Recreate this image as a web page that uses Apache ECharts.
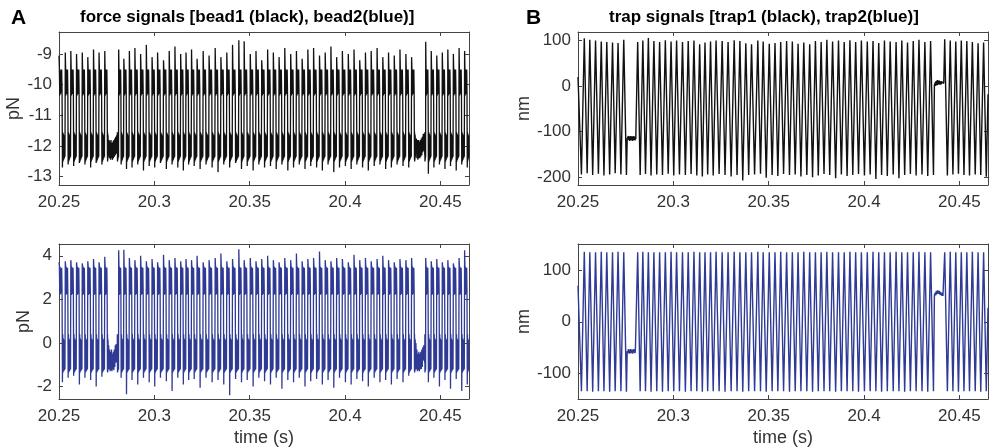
<!DOCTYPE html>
<html><head><meta charset="utf-8">
<script src="https://cdn.jsdelivr.net/npm/echarts@6/dist/echarts.min.js"></script>
<style>html,body{margin:0;padding:0;background:#fff}#c{width:990px;height:448px}</style>
</head><body><div id="c"></div>
<script>
// ---------------- data ----------------
const xTicks = [20.25, 20.3, 20.35, 20.4, 20.45];
const yTicksF1 = [-13, -12, -11, -10, -9];
const yTicksF2 = [-2, 0, 2, 4];
const yTicksT1 = [-200, -100, 0, 100];
const yTicksT2 = [-100, 0, 100];

// trap turning points (s)
const vertT = [
 20.2500,20.2518,20.2533,20.2548,20.2562,20.2577,20.2592,20.2607,20.2622,20.2636,
 20.2651,20.2666,20.2681,20.2695,20.2710,20.2725,20.2740,20.2754,20.2758,20.2805,
 20.2813,20.2826,20.2840,20.2854,20.2869,20.2883,20.2898,20.2913,20.2928,20.2943,
 20.2958,20.2973,20.2988,20.3002,20.3017,20.3032,20.3048,20.3063,20.3078,20.3093,
 20.3108,20.3123,20.3138,20.3152,20.3166,20.3180,20.3195,20.3209,20.3224,20.3240,
 20.3256,20.3271,20.3287,20.3303,20.3319,20.3334,20.3349,20.3364,20.3380,20.3395,
 20.3410,20.3426,20.3443,20.3457,20.3471,20.3487,20.3503,20.3518,20.3533,20.3548,
 20.3563,20.3578,20.3594,20.3609,20.3624,20.3639,20.3654,20.3669,20.3684,20.3700,
 20.3715,20.3730,20.3745,20.3760,20.3775,20.3790,20.3805,20.3820,20.3835,20.3851,
 20.3866,20.3881,20.3896,20.3911,20.3926,20.3941,20.3956,20.3971,20.3986,20.4002,
 20.4017,20.4032,20.4047,20.4062,20.4077,20.4092,20.4107,20.4122,20.4137,20.4153,
 20.4168,20.4183,20.4198,20.4213,20.4228,20.4243,20.4258,20.4273,20.4288,20.4304,
 20.4319,20.4334,20.4349,20.4364,20.4369,20.4418,20.4423,20.4437,20.4452,20.4466,
 20.4481,20.4495,20.4510,20.4524,20.4539,20.4553,20.4568,20.4583,20.4598,20.4612,
 20.4627,20.4641,20.4650
];
// trap1 (nm) at those points
const trap1V = [
 20,-195,105,-192,102,-196,100,-193,98,-197,
 97,-195,96,-192,95,-195,102,-196,-116,-114,
 97,-196,100,-194,106,-197,99,-195,97,-196,
 101,-193,98,-197,100,-195,97,-196,99,-194,
 100,-197,92,-199,96,-195,98,-197,100,-194,
 99,-196,97,-199,101,-196,99,-208,94,-196,
 92,-195,100,-193,98,-202,93,-196,95,-198,
 97,-194,99,-196,98,-195,93,-199,96,-196,
 92,-201,99,-197,97,-194,102,-196,98,-203,
 100,-195,97,-198,101,-196,97,-194,100,-197,
 98,-195,99,-205,95,-196,100,-198,98,-195,
 97,-203,100,-196,96,-194,99,-197,102,-195,
 97,-198,99,-196,2,6,103,-197,100,-195,
 98,-193,100,-196,99,-197,97,-195,94,-196,
 96,-200,-18
];
// trap2 (nm) at those points
const trap2V = [
 70,-135,136,-135,135,-136,135,-135,136,-135,
 135,-136,135,-135,136,-135,135,-136,-57,-58,
 135,-135,136,-135,135,-136,135,-135,135,-136,
 135,-135,136,-135,135,-135,135,-136,135,-135,
 136,-135,135,-136,135,-135,135,-135,136,-135,
 135,-136,135,-135,136,-135,135,-136,135,-135,
 135,-135,136,-135,135,-136,135,-135,135,-135,
 136,-135,135,-136,135,-135,135,-135,136,-135,
 135,-136,135,-135,135,-135,136,-135,135,-136,
 135,-135,135,-135,136,-135,135,-136,135,-135,
 135,-135,136,-135,135,-136,135,-135,135,-135,
 136,-135,135,-136,135,-135,135,-135,136,-135,
 135,-136,135,-135,52,52,135,-135,136,-135,
 135,-136,135,-135,135,-135,136,-135,135,-136,
 135,-135,27
];
// stationary-trap intervals and their readings
const flatT = [[20.2758, 20.2805], [20.4369, 20.4418]];
const flatTrap1 = [
  [-112,-120,-110,-119,-111,-121,-112,-118,-110,-120,-113,-119,-111,-121,-112,-118,-110,-119,-113,-120,-112,-117],
  [-2,8,0,11,3,12,2,13,4,11,3,12,5,10,3,11,4,9,5,10,6,7]];
const flatTrap2 = [
  [-54,-61,-53,-60,-55,-62,-54,-59,-53,-61,-55,-60,-54,-62,-55,-59,-53,-60,-56,-61,-55,-58],
  [49,56,51,59,53,60,54,61,55,59,54,60,53,58,52,57,51,56,50,55,50,52]];
const flatBead1 = [
  [-12.1,-11.8,-12.4,-11.85,-12.45,-11.8,-12.4,-11.9,-12.45,-11.85,-12.4,-11.8,-12.35,-11.75,-12.3,-11.7,-12.25,-11.65],
  [-12.0,-11.75,-12.4,-11.8,-12.45,-11.8,-12.4,-11.85,-12.4,-11.8,-12.35,-11.75,-12.3,-11.7,-12.2,-11.6,-12.15,-11.6]];
const flatBead2 = [
  [-0.1,-1.2,-0.3,-1.3,-0.4,-1.25,-0.3,-1.3,-0.5,-1.2,-0.4,-1.25,-0.3,-1.1,-0.1,-0.9,-0.05,-0.8],
  [0.0,-1.2,-0.3,-1.3,-0.5,-1.25,-0.4,-1.3,-0.5,-1.2,-0.4,-1.2,-0.3,-1.1,-0.2,-0.8,-0.1,-0.7]];
// force band readings (pN) on high / low plateaus
const hiBand1 = [-9.45,-10.35,-9.5,-10.3,-9.55,-10.25,-9.5,-10.2];
const loBand1 = [-11.55,-12.5,-11.6,-12.45,-11.7,-12.4,-11.65,-12.35];
const hiBand2 = [3.55,2.2,3.5,2.25,3.4,2.3,3.45,2.35];
const loBand2 = [0.4,-1.35,0.2,-1.3,0.1,-1.25,0.15,-1.2];
// spike (overshoot) values at each switch (pN)
const bead1Hi = [
 -9.05,-8.95,-8.9,-9.0,-8.95,-9.1,-8.85,-8.95,-8.9,
 -8.85,-9.15,-8.9,-8.8,-9.0,-8.7,-9.1,-8.95,-9.2,-8.9,
 -8.75,-9.0,-8.95,-8.85,-9.15,-8.9,-9.05,-8.8,-9.1,-8.95,
 -8.7,-8.55,-8.58,-9.0,-8.9,-9.2,-8.85,-8.95,-9.1,-8.8,
 -9.0,-8.9,-9.15,-8.85,-8.8,-9.05,-8.95,-8.75,-9.1,-8.9,
 -9.0,-8.85,-9.2,-8.95,-8.9,-8.8,-9.1,-8.95,-9.05,-8.85,
 -9.0,-9.1,
 -8.6,-8.9,-9.05,-8.95,-8.85,-9.0,-8.8,-8.9
];
const bead1Lo = [
 -12.7,-12.6,-12.65,-12.55,-12.6,-12.7,-12.55,-12.6,-12.4,
 -12.2,
 -12.6,-12.75,-12.7,-12.6,-12.8,-12.65,-12.7,-12.55,-12.75,-12.6,
 -12.7,-12.8,-12.6,-12.65,-12.75,-12.6,-12.7,-12.85,-12.6,-12.7,
 -12.55,-12.75,-12.65,-12.8,-12.6,-12.7,-12.65,-12.75,-12.6,-12.8,
 -12.7,-12.6,-12.75,-12.65,-12.7,-12.8,-12.6,-12.85,-12.7,-12.65,
 -12.75,-12.6,-12.7,-12.8,-12.65,-12.6,-12.75,-12.7,-12.6,-12.65,
 -12.7,
 -12.45,-12.3,
 -12.9,-12.7,-12.6,-12.75,-12.65,-12.8,-12.6,
 -12.7
];
const bead2Hi = [
 3.7,3.75,3.8,3.7,3.65,3.75,3.85,3.7,3.95,
 4.25,4.28,3.9,3.8,4.0,3.75,3.85,3.7,4.05,3.8,
 3.9,3.75,3.85,3.8,4.0,3.7,3.8,3.9,4.1,3.75,
 3.85,4.3,3.8,3.9,3.75,3.85,4.0,3.8,3.7,3.9,
 3.8,4.1,3.75,3.85,3.9,4.2,3.8,3.75,3.9,3.85,
 3.7,4.05,3.8,3.9,3.75,3.85,4.0,3.8,3.7,3.85,
 3.8,3.9,
 3.9,3.75,3.85,3.7,3.8,3.65,3.9,4.25
];
const bead2Lo = [
 -1.8,-1.6,-1.5,-1.9,-1.6,-1.7,-2.0,-1.55,-1.3,
 -0.9,
 -1.6,-2.35,-1.7,-1.9,-1.6,-1.8,-2.0,-1.6,-1.75,-2.2,
 -1.6,-1.9,-1.7,-1.65,-2.05,-1.6,-1.8,-1.7,-1.9,-2.4,
 -1.65,-1.8,-1.7,-2.0,-1.6,-1.75,-1.9,-1.6,-2.1,-1.7,
 -1.8,-1.6,-2.0,-1.75,-1.65,-1.9,-1.7,-2.05,-1.6,-1.8,
 -1.9,-1.65,-1.75,-2.0,-1.6,-1.8,-1.7,-1.9,-1.65,-1.8,
 -1.5,
 -1.3,-0.9,
 -1.8,-1.6,-2.0,-1.7,-2.1,-1.65,-2.2,
 -1.9
];

// ---------------- build polylines ----------------
function flatIndex(t){ return flatT.findIndex(f => Math.abs(f[0]-t) < 1e-7); }
function buildTrap(vals, flats){
  const pts = [];
  for (let i = 0; i < vertT.length; i++){
    pts.push([vertT[i], vals[i]]);
    const fi = flatIndex(vertT[i]);
    if (fi >= 0 && i + 1 < vertT.length){
      const f = flats[fi], t0 = vertT[i], t1 = vertT[i+1];
      f.forEach((v, j) => pts.push([t0 + (t1-t0)*(j+1)/(f.length+1), v]));
    }
  }
  return pts;
}
function buildForce(spHi, spLo, hiB, loB, flats){
  const pts = []; let h = 0, l = 0;
  for (let i = 0; i < vertT.length - 1; i++){
    const t0 = vertT[i], t1 = vertT[i+1];
    const fi = flatIndex(t0);
    let band, spike = null;
    if (fi >= 0){ band = flats[fi]; }
    else if (trap1V[i+1] < trap1V[i]){ band = hiB; spike = spHi[h++]; if (spike === undefined) spike = hiB[0]; }
    else { band = loB; spike = spLo[l++]; if (spike === undefined) spike = loB[1]; }
    if (spike !== null) pts.push([t0, spike]);
    band.forEach((v, j) => pts.push([t0 + (t1-t0)*(j+1)/(band.length+1), v]));
  }
  return pts;
}

// ---------------- chart ----------------
const BLUE = '#2e3a94';
const AX = '#444';
const FONT = 'Liberation Sans, Arial, Helvetica, sans-serif';
const grids = [
  {left: 59, top: 32, width: 410, height: 153},
  {left: 59, top: 244, width: 410, height: 155},
  {left: 578, top: 32, width: 410, height: 153},
  {left: 578, top: 244, width: 410, height: 155}
];
const yRanges = [[-13.27, -8.28], [-2.57, 4.54], [-218, 119], [-150, 151]];
const yTicks = [yTicksF1, yTicksF2, yTicksT1, yTicksT2];
const yNames = ['pN', 'pN', 'nm', 'nm'];
const yGaps = [33, 21, 38, 38];

const xAxes = [], yAxes = [];
grids.forEach((g, p) => {
  const common = {type: 'value', gridIndex: p, min: 20.25, max: 20.465, splitLine: {show: false},
    axisLine: {show: true, onZero: false, lineStyle: {color: AX, width: 1}}};
  xAxes.push(Object.assign({}, common, {position: 'bottom',
    axisTick: {show: true, inside: true, length: 4, customValues: xTicks, lineStyle: {color: AX}},
    axisLabel: {show: true, customValues: xTicks, margin: 9, fontSize: 17, color: '#333', fontFamily: FONT,
      formatter: v => String(+v.toFixed(2))},
    name: (p === 1 || p === 3) ? 'time (s)' : '', nameLocation: 'middle', nameGap: 30,
    nameTextStyle: {fontSize: 18, color: '#333', fontFamily: FONT}}));
  xAxes.push(Object.assign({}, common, {position: 'top',
    axisTick: {show: true, inside: true, length: 4, customValues: xTicks, lineStyle: {color: AX}},
    axisLabel: {show: false}}));
  const yc = {type: 'value', gridIndex: p, min: yRanges[p][0], max: yRanges[p][1], splitLine: {show: false},
    axisLine: {show: true, onZero: false, lineStyle: {color: AX, width: 1}}};
  yAxes.push(Object.assign({}, yc, {position: 'left',
    axisTick: {show: true, inside: true, length: 4, customValues: yTicks[p], lineStyle: {color: AX}},
    axisLabel: {show: true, customValues: yTicks[p], margin: 7, fontSize: 17, color: '#333', fontFamily: FONT},
    name: yNames[p], nameLocation: 'middle', nameGap: yGaps[p],
    nameTextStyle: {fontSize: 18, color: '#333', fontFamily: FONT}}));
  yAxes.push(Object.assign({}, yc, {position: 'right',
    axisTick: {show: true, inside: true, length: 4, customValues: yTicks[p], lineStyle: {color: AX}},
    axisLabel: {show: false}}));
});

const mk = (p, data, color, w) => ({type: 'line', xAxisIndex: p*2, yAxisIndex: p*2, data, showSymbol: false,
  symbol: 'none', lineStyle: {color, width: w}, animation: false, clip: true, silent: true});

const option = {
  backgroundColor: '#fff',
  animation: false,
  title: [
    {text: 'A', left: 6, top: 3, textStyle: {fontSize: 21, fontWeight: 'bold', color: '#000', fontFamily: FONT}},
    {text: 'B', left: 521, top: 3, textStyle: {fontSize: 21, fontWeight: 'bold', color: '#000', fontFamily: FONT}},
    {text: 'force signals [bead1 (black), bead2(blue)]', left: 75, top: 4,
      textStyle: {fontSize: 17, fontWeight: 'bold', color: '#000', fontFamily: FONT}},
    {text: 'trap signals [trap1 (black), trap2(blue)]', left: 604, top: 4,
      textStyle: {fontSize: 17, fontWeight: 'bold', color: '#000', fontFamily: FONT}}
  ],
  grid: grids,
  xAxis: xAxes,
  yAxis: yAxes,
  series: [
    mk(0, buildForce(bead1Hi, bead1Lo, hiBand1, loBand1, flatBead1), '#111', 1.3),
    mk(1, buildForce(bead2Hi, bead2Lo, hiBand2, loBand2, flatBead2), BLUE, 1.3),
    mk(2, buildTrap(trap1V, flatTrap1), '#111', 1.4),
    mk(3, buildTrap(trap2V, flatTrap2), BLUE, 1.4)
  ]
};
echarts.init(document.getElementById('c'), null, {renderer: 'canvas'}).setOption(option);
</script>
</body></html>
